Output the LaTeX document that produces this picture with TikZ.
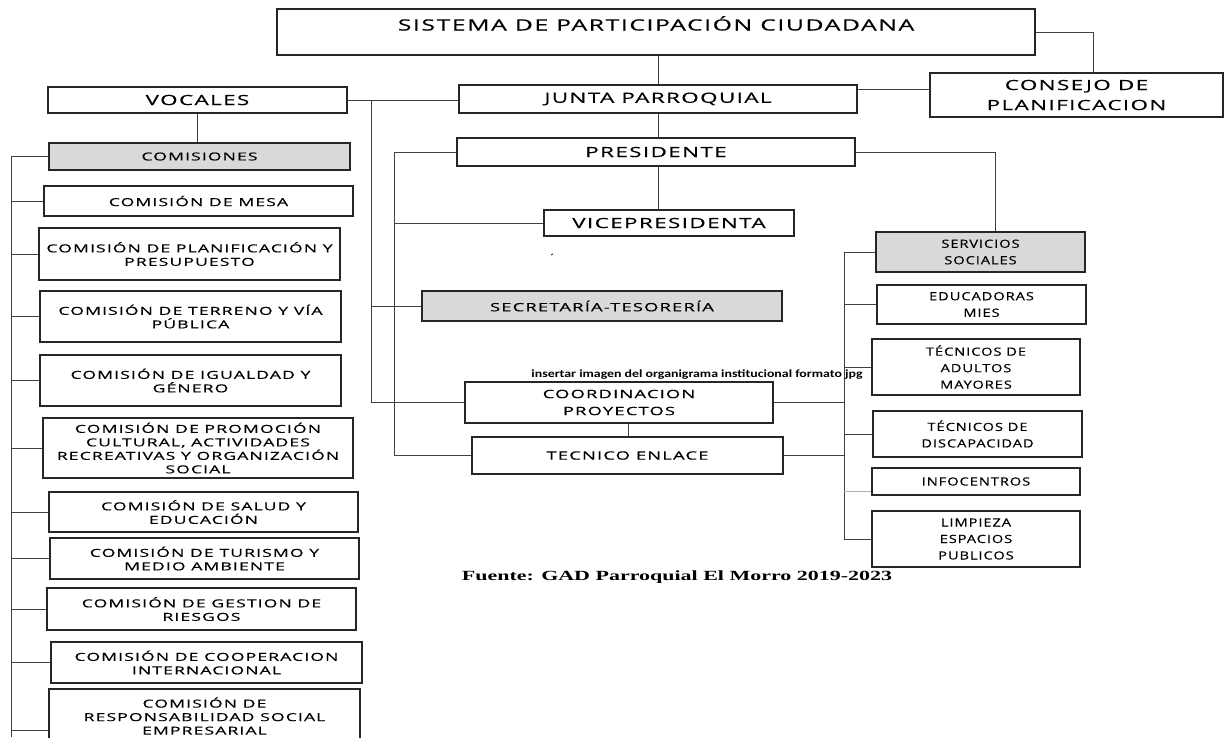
\documentclass[tikz,border=0pt]{standalone}
\usepackage{fontspec}
\newfontfamily\cajafont[FakeStretch=1.3,LetterSpace=8,FakeBold=0.3]{Open Sans}
\newfontfamily\anchafont[FakeStretch=1.6,LetterSpace=10,FakeBold=0.3]{Open Sans}
\newfontfamily\notafont[FakeStretch=1.57]{Liberation Serif}
\newfontfamily\avisofont[FakeStretch=1.26]{Carlito}
\usepackage{tikz}

\begin{document}
\begin{tikzpicture}[x=1pt, y=-1pt,
    caja/.style={draw=black!85, line width=1.3pt, fill=white, align=center, inner sep=0pt, font=\anchafont\fontsize{11}{13.5}\selectfont},
    grande/.style={caja, font=\anchafont\fontsize{14}{20}\selectfont},
    media/.style={caja, font=\anchafont\fontsize{11.5}{17}\selectfont},
    derecha/.style={caja, font=\cajafont\fontsize{11.3}{16.5}\selectfont},
    gris/.style={fill=black!15},
    linea/.style={draw=black!75, line width=0.9pt}]
    \useasboundingbox (0,0) rectangle (1224,737);
    % Nivel superior
    \node[grande, minimum width=758, minimum height=46, text height=12pt, text depth=15pt, font=\anchafont\fontsize{15.5}{18}\selectfont] (sistema) at (656,32) {SISTEMA DE PARTICIPACIÓN CIUDADANA};
    \node[grande, minimum width=293, minimum height=44] (consejo) at (1076.5,95) {CONSEJO DE\\PLANIFICACION};
    \node[grande, minimum width=299, minimum height=26] (vocales) at (197.5,100) {VOCALES};
    \node[grande, minimum width=398, minimum height=28] (junta) at (658,99) {JUNTA PARROQUIAL};
    \node[grande, minimum width=398, minimum height=28] (presidente) at (656,152) {PRESIDENTE};
    \node[grande, minimum width=250, minimum height=26] (vice) at (669,223) {VICEPRESIDENTA};
    % Comisiones
    \node[caja, gris, minimum width=301, minimum height=27] (comisiones) at (199.5,156.5) {COMISIONES};
    \node[caja, minimum width=309, minimum height=30] (mesa) at (198.5,201) {COMISIÓN DE MESA};
    \node[caja, minimum width=301, minimum height=52] (planif) at (189.5,254) {COMISIÓN DE PLANIFICACIÓN Y\\PRESUPUESTO};
    \node[caja, minimum width=301, minimum height=51] (terreno) at (190.5,316.5) {COMISIÓN DE TERRENO Y VÍA\\PÚBLICA};
    \node[caja, minimum width=301, minimum height=51] (igualdad) at (190.5,380.5) {COMISIÓN DE IGUALDAD Y\\GÉNERO};
    \node[caja, minimum width=310, minimum height=60] (promocion) at (198,448) {COMISIÓN DE PROMOCIÓN\\CULTURAL, ACTIVIDADES\\RECREATIVAS Y ORGANIZACIÓN\\SOCIAL};
    \node[caja, minimum width=309, minimum height=40] (salud) at (203.5,512) {COMISIÓN DE SALUD Y\\EDUCACIÓN};
    \node[caja, minimum width=309, minimum height=41] (turismo) at (204.5,558.5) {COMISIÓN DE TURISMO Y\\MEDIO AMBIENTE};
    \node[caja, minimum width=309, minimum height=42] (gestion) at (201.5,609) {COMISIÓN DE GESTION DE\\RIESGOS};
    \node[caja, minimum width=311, minimum height=41] (cooperacion) at (206.5,662.5) {COMISIÓN DE COOPERACION\\INTERNACIONAL};
    \node[caja, minimum width=311, minimum height=54] (responsabilidad) at (204.5,716) {COMISIÓN DE\\RESPONSABILIDAD SOCIAL\\EMPRESARIAL};
    % Centro
    \node[font=\cajafont\fontsize{8}{8}\selectfont] (marca) at (552,257) {´};
    \node[media, gris, minimum width=360, minimum height=30] (secretaria) at (602,306) {SECRETARÍA-TESORERÍA};
    \node[media, minimum width=308, minimum height=41] (coordinacion) at (619,402.5) {COORDINACION\\PROYECTOS};
    \node[media, minimum width=311, minimum height=37] (tecnico) at (627.5,455.5) {TECNICO ENLACE};
    % Servicios
    \node[derecha, gris, minimum width=209, minimum height=40] (servicios) at (980.5,252) {SERVICIOS\\SOCIALES};
    \node[derecha, minimum width=209, minimum height=39] (educadoras) at (981.5,304.5) {EDUCADORAS\\MIES};
    \node[derecha, minimum width=208, minimum height=56] (adultos) at (976,367) {TÉCNICOS DE\\ADULTOS\\MAYORES};
    \node[derecha, minimum width=209, minimum height=46] (discapacidad) at (977.5,434) {TÉCNICOS DE\\DISCAPACIDAD};
    \node[derecha, minimum width=208, minimum height=27] (infocentros) at (976,481.5) {INFOCENTROS};
    \node[derecha, minimum width=208, minimum height=56] (limpieza) at (976,539) {LIMPIEZA\\ESPACIOS\\PUBLICOS};
    % Lineas
    \draw[linea] (sistema.south -| junta.north) -- (junta.north);
    \draw[linea] (junta.south) -- (junta.south |- presidente.north);
    \draw[linea] (presidente.south -| junta.south) -- (vice.north -| junta.south);
    \draw[linea] (vocales.south) -- (vocales.south |- comisiones.north);
    \draw[linea] (vocales.east) -- (vocales.east -| junta.west);
    \draw[linea] (sistema.east) -| ([xshift=16.5pt]consejo.north);
    \draw[linea] ([yshift=6pt]consejo.west) -- ([yshift=6pt]consejo.west -| junta.east);
    \draw[linea] (presidente.east) -| ([xshift=14.5pt]servicios.north);
    \draw[linea] ([xshift=9pt]coordinacion.south) -- ([xshift=9pt]coordinacion.south |- tecnico.north);
    % Ejes del centro
    \coordinate (eje1) at (371,100);
    \coordinate (eje2) at (394,152);
    \draw[linea] (eje1) -- (eje1 |- coordinacion.west) -- (coordinacion.west);
    \draw[linea] (secretaria.west) -- (secretaria.west -| eje1);
    \draw[linea] (presidente.west) -- (eje2) -- (eje2 |- tecnico.west) -- (tecnico.west);
    \draw[linea] (vice.west) -- (vice.west -| eje2);
    % Eje de servicios
    \coordinate (eje3) at (844,252);
    \draw[linea] (servicios.west) -- (eje3) -- (eje3 |- limpieza.west) -- (limpieza.west);
    \draw[linea] (educadoras.west) -- (educadoras.west -| eje3);
    \draw[linea] (adultos.west) -- (adultos.west -| eje3);
    \draw[linea] (discapacidad.west) -- (discapacidad.west -| eje3);
    \draw[linea, draw=blue!35] ([yshift=-10pt]infocentros.west) -- ([yshift=-10pt]infocentros.west -| eje3);
    \draw[linea] (coordinacion.east) -- (coordinacion.east -| eje3);
    \draw[linea] (tecnico.east) -- (tecnico.east -| eje3);
    % Eje de comisiones
    \coordinate (eje0) at (11,156.5);
    \coordinate (eje0fin) at (11,737);
    \draw[linea] (comisiones.west) -- (eje0) -- (eje0fin);
    \draw[linea] (mesa.west) -- (mesa.west -| eje0);
    \draw[linea] (planif.west) -- (planif.west -| eje0);
    \draw[linea] (terreno.west) -- (terreno.west -| eje0);
    \draw[linea] (igualdad.west) -- (igualdad.west -| eje0);
    \draw[linea] (promocion.west) -- (promocion.west -| eje0);
    \draw[linea] (salud.west) -- (salud.west -| eje0);
    \draw[linea] (turismo.west) -- (turismo.west -| eje0);
    \draw[linea] (gestion.west) -- (gestion.west -| eje0);
    \draw[linea] (cooperacion.west) -- (cooperacion.west -| eje0);
    \draw[linea] ([yshift=-14pt]responsabilidad.west) -- ([yshift=-14pt]responsabilidad.west -| eje0);
    % Textos sueltos
    \node[font=\avisofont\bfseries\fontsize{11}{13}\selectfont] (aviso) at (697,375) {insertar imagen del organigrama institucional formato jpg};
    \node[font=\notafont\bfseries\fontsize{14}{16}\selectfont] (fuente) at (677,577) {Fuente: GAD Parroquial El Morro 2019-2023};
\end{tikzpicture}
\end{document}
